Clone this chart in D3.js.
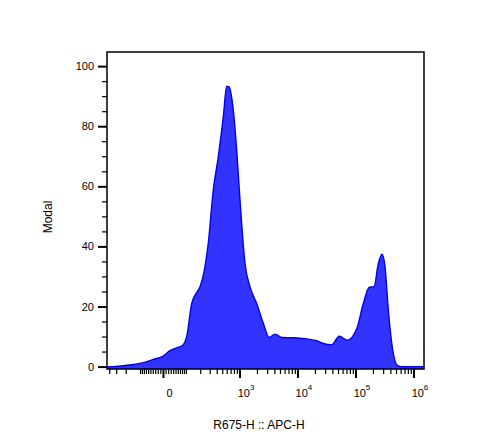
<!DOCTYPE html>
<html>
<head>
<meta charset="utf-8">
<script src="https://cdn.jsdelivr.net/npm/d3@7"></script>
<style>
  html, body { margin: 0; padding: 0; background: #fff; }
  svg { display: block; font-family: "Liberation Sans", Arial, sans-serif; }
</style>
</head>
<body>
<svg id="chart" width="483" height="440"></svg>
<script>
// ---- data (APC-H value, Modal %) ----
const apcValues = [-438, -339, -222, -141, -83, -38, 1, 27, 55, 78, 104, 135, 170, 198, 245, 282, 347, 426, 522, 599, 656, 780, 894, 1020, 1244, 1517, 1982, 2575, 3267, 4099, 5347, 8476, 13480, 21460, 27900, 38920, 52610, 72270, 105000, 136600, 173300, 208800, 247700, 286900, 323100, 368200, 438500, 534300, 626600, 1518000];
const modalValues = [0, 0, 0.3, 0.7, 1.3, 2.4, 3.5, 5.3, 6.3, 6.8, 9.9, 21.0, 24.6, 26.6, 33.2, 41.0, 58.7, 69.8, 83.1, 93.3, 93.1, 85.4, 72.0, 55.4, 34.3, 26.6, 21.0, 14.4, 9.7, 10.8, 9.7, 9.6, 9.3, 8.6, 7.7, 7.3, 10.1, 8.8, 12.6, 21.0, 26.4, 26.6, 34.3, 37.4, 33.2, 18.8, 5.5, 0.3, 0, 0];

const xDomain = [-438, 1518000];
const yDomain = [-0.8, 104.7];
const yMajorTicks = [0, 20, 40, 60, 80, 100];
const yMinorTicks = [5, 10, 15, 25, 30, 35, 45, 50, 55, 65, 70, 75, 85, 90, 95];
const xMajorTicks = [0, 1e3, 1e4, 1e5, 1e6];
const xMajorLabels = ["0", "10|3", "10|4", "10|5", "10|6"];
const xTitle = "R675-H :: APC-H";
const yTitle = "Modal";

// ---- biexponential-like transform (asinh) ----
const W = 96.1;
const T = v => Math.asinh(v / W);

const margin = { left: 107, right: 424, top: 52, bottom: 369 };
const svg = d3.select("#chart");

const xLin = d3.scaleLinear().domain(xDomain.map(T)).range([margin.left, margin.right]);
const y = d3.scaleLinear().domain(yDomain).range([margin.bottom, margin.top]);

// minor x ticks
const xMinorTicks = [];
[10, 100, 1000, 10000, 100000].forEach(d => {
  for (let m = 1; m <= 9; m++) {
    xMinorTicks.push(m * d);
    xMinorTicks.push(-m * d);
  }
});
const xMinorVals = xMinorTicks.filter(v => v >= xDomain[0] && v <= xDomain[1] && !xMajorTicks.includes(v));

const data = apcValues.map((v, i) => ({ x: v, y: modalValues[i] }));

// area
const area = d3.area()
  .x(d => xLin(T(d.x)))
  .y0(y(0) + 0)
  .y1(d => y(d.y))
  .curve(d3.curveMonotoneX);
const line = d3.line()
  .x(d => xLin(T(d.x)))
  .y(d => y(d.y))
  .curve(d3.curveMonotoneX);

const clip = svg.append("clipPath").attr("id", "clip")
  .append("rect").attr("x", margin.left).attr("y", margin.top)
  .attr("width", margin.right - margin.left).attr("height", margin.bottom - margin.top);

const g = svg.append("g").attr("clip-path", "url(#clip)");
g.append("path").datum(data)
  .attr("d", d3.area().x(d => xLin(T(d.x))).y0(margin.bottom).y1(d => y(d.y)).curve(d3.curveMonotoneX))
  .attr("fill", "#3333ff");
g.append("path").datum(data)
  .attr("d", line)
  .attr("fill", "none").attr("stroke", "#0000f0").attr("stroke-width", 1.4);

// frame
svg.append("rect")
  .attr("x", margin.left).attr("y", margin.top)
  .attr("width", margin.right - margin.left).attr("height", margin.bottom - margin.top)
  .attr("fill", "none").attr("stroke", "#000").attr("stroke-width", 1.5);

// y axis minor
svg.append("g").attr("transform", `translate(${margin.left},0)`)
  .call(d3.axisLeft(y).tickValues(yMinorTicks).tickSize(5).tickFormat(""))
  .call(a => a.select(".domain").remove())
  .selectAll("line").attr("stroke-width", 1.2);
// y axis major
const yAx = svg.append("g").attr("transform", `translate(${margin.left},0)`)
  .call(d3.axisLeft(y).tickValues(yMajorTicks).tickSize(9).tickPadding(4).tickFormat(d3.format("d")));
yAx.select(".domain").remove();
yAx.selectAll("line").attr("stroke-width", 2);
yAx.selectAll("text").attr("font-size", 11).attr("font-family", "Liberation Sans, Arial, sans-serif").attr("fill", "#000");

// x axis minor
svg.append("g").attr("transform", `translate(0,${margin.bottom})`)
  .call(d3.axisBottom(xLin).tickValues(xMinorVals.map(T)).tickSize(5).tickFormat(""))
  .call(a => a.select(".domain").remove())
  .selectAll("line").attr("stroke-width", 1.2);
// x axis major
const xAx = svg.append("g").attr("transform", `translate(0,${margin.bottom})`)
  .call(d3.axisBottom(xLin).tickValues(xMajorTicks.map(T)).tickSize(9).tickFormat(""));
xAx.select(".domain").remove();
xAx.selectAll("line").attr("stroke-width", 2);
xAx.selectAll(".tick").each(function(d, i) {
  const parts = xMajorLabels[i].split("|");
  const t = d3.select(this).append("text")
    .attr("x", 6).attr("y", 28)
    .attr("text-anchor", "middle")
    .attr("fill", "#000")
    .attr("font-size", 11)
    .attr("font-family", "Liberation Sans, Arial, sans-serif");
  t.append("tspan").text(parts[0]);
  if (parts[1]) {
    t.append("tspan").attr("font-size", 8).attr("dy", -7).text(parts[1]);
  }
});

// titles
svg.append("text")
  .attr("x", 259).attr("y", 429)
  .attr("text-anchor", "middle")
  .attr("font-size", 12)
  .attr("fill", "#000")
  .text(xTitle);
svg.append("text")
  .attr("transform", "translate(52,217) rotate(-90)")
  .attr("text-anchor", "middle")
  .attr("font-size", 12)
  .attr("fill", "#000")
  .text(yTitle);
</script>
</body>
</html>
